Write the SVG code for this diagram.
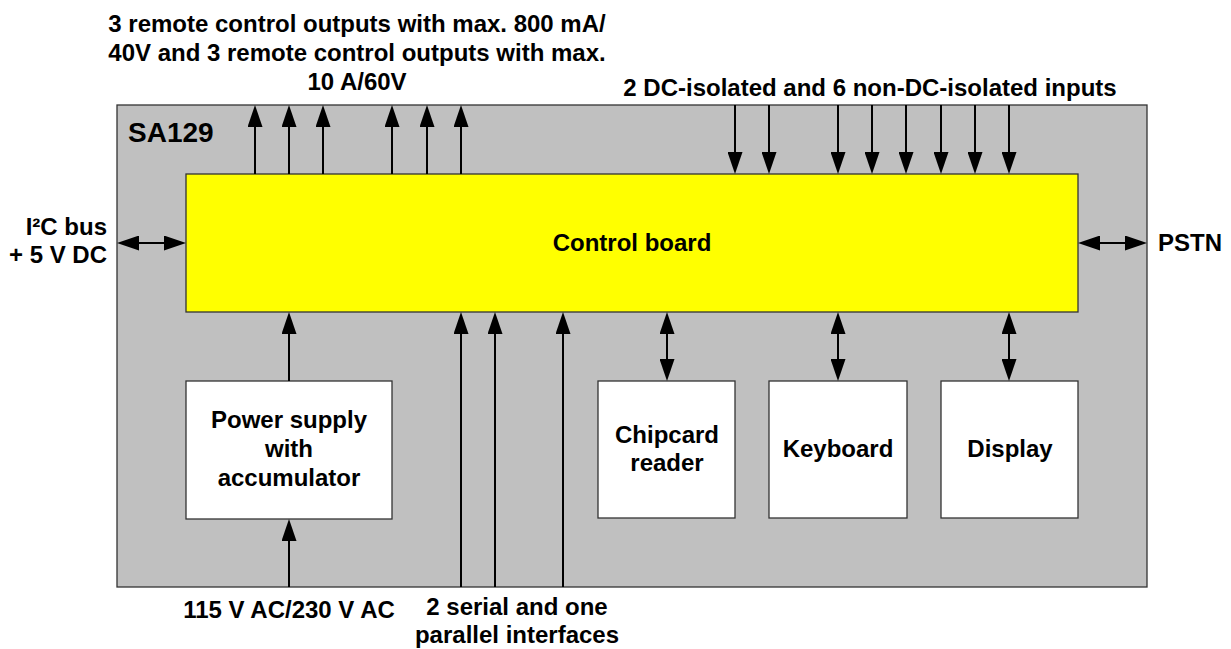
<svg xmlns="http://www.w3.org/2000/svg" width="1231" height="649" viewBox="0 0 1231 649">
<defs>
<style>
text{font-family:"Liberation Sans",Arial,sans-serif;font-weight:bold;font-size:24px;fill:#000}
.c{text-anchor:middle}
.e{text-anchor:end}
.box{fill:#fff;stroke:#333;stroke-width:1.3}
.ln{stroke:#000;stroke-width:2;fill:none}
.a{marker-end:url(#ah)}
.b{marker-start:url(#ah);marker-end:url(#ah)}
</style>
<marker id="ah" markerUnits="userSpaceOnUse" markerWidth="22" markerHeight="15" refX="14" refY="7.5" orient="auto-start-reverse" viewBox="0 0 22 15">
<path d="M0,0 L22,7.5 L0,15 z" fill="#000"/>
</marker>
</defs>
<rect width="1231" height="649" fill="#fff"/>
<g id="sa129">
<rect x="117" y="105" width="1030" height="482" fill="#c0c0c0" stroke="#333" stroke-width="1.3"/>
<text x="128" y="142" style="font-size:28px">SA129</text>
</g>
<g id="control-board">
<rect x="186" y="174" width="892" height="138" fill="#ffff00" stroke="#333" stroke-width="1.3"/>
<text class="c" x="632" y="251">Control board</text>
</g>
<g id="power-supply">
<rect class="box" x="186" y="381" width="206" height="138"/>
<text class="c" x="289" y="428">Power supply</text>
<text class="c" x="289" y="457">with</text>
<text class="c" x="289" y="486">accumulator</text>
</g>
<g id="chipcard-reader">
<rect class="box" x="598" y="381" width="137" height="137"/>
<text class="c" x="667" y="443">Chipcard</text>
<text class="c" x="667" y="471">reader</text>
</g>
<g id="keyboard">
<rect class="box" x="769" y="381" width="138" height="137"/>
<text class="c" x="838" y="457">Keyboard</text>
</g>
<g id="display">
<rect class="box" x="941" y="381" width="137" height="137"/>
<text class="c" x="1010" y="457">Display</text>
</g>
<g id="labels">
<text class="c" x="357" y="32">3 remote control outputs with max. 800 mA/</text>
<text class="c" x="357" y="61">40V and 3 remote control outputs with max.</text>
<text class="c" x="357" y="90">10 A/60V</text>
<text class="c" x="870" y="96">2 DC-isolated and 6 non-DC-isolated inputs</text>
<text class="e" x="107" y="235">I²C bus</text>
<text class="e" x="107" y="263">+ 5 V DC</text>
<text x="1158" y="251">PSTN</text>
<text class="c" x="289" y="618">115 V AC/230 V AC</text>
<text class="c" x="517" y="615">2 serial and one</text>
<text class="c" x="517" y="643">parallel interfaces</text>
</g>
<g id="connectors">
<line class="ln a" x1="255" y1="174" x2="255" y2="113"/>
<line class="ln a" x1="289" y1="174" x2="289" y2="113"/>
<line class="ln a" x1="323" y1="174" x2="323" y2="113"/>
<line class="ln a" x1="392" y1="174" x2="392" y2="113"/>
<line class="ln a" x1="427" y1="174" x2="427" y2="113"/>
<line class="ln a" x1="461" y1="174" x2="461" y2="113"/>
<line class="ln a" x1="735" y1="105" x2="735" y2="166"/>
<line class="ln a" x1="769" y1="105" x2="769" y2="166"/>
<line class="ln a" x1="838" y1="105" x2="838" y2="166"/>
<line class="ln a" x1="872" y1="105" x2="872" y2="166"/>
<line class="ln a" x1="906" y1="105" x2="906" y2="166"/>
<line class="ln a" x1="941" y1="105" x2="941" y2="166"/>
<line class="ln a" x1="975" y1="105" x2="975" y2="166"/>
<line class="ln a" x1="1009" y1="105" x2="1009" y2="166"/>
<line class="ln b" x1="125" y1="243" x2="178" y2="243"/>
<line class="ln b" x1="1086" y1="243" x2="1139" y2="243"/>
<line class="ln a" x1="289" y1="381" x2="289" y2="320"/>
<line class="ln a" x1="289" y1="587" x2="289" y2="527"/>
<line class="ln a" x1="461" y1="587" x2="461" y2="320"/>
<line class="ln a" x1="495" y1="587" x2="495" y2="320"/>
<line class="ln a" x1="563" y1="587" x2="563" y2="320"/>
<line class="ln b" x1="667" y1="320" x2="667" y2="373"/>
<line class="ln b" x1="838" y1="320" x2="838" y2="373"/>
<line class="ln b" x1="1009" y1="320" x2="1009" y2="373"/>
</g>
</svg>
